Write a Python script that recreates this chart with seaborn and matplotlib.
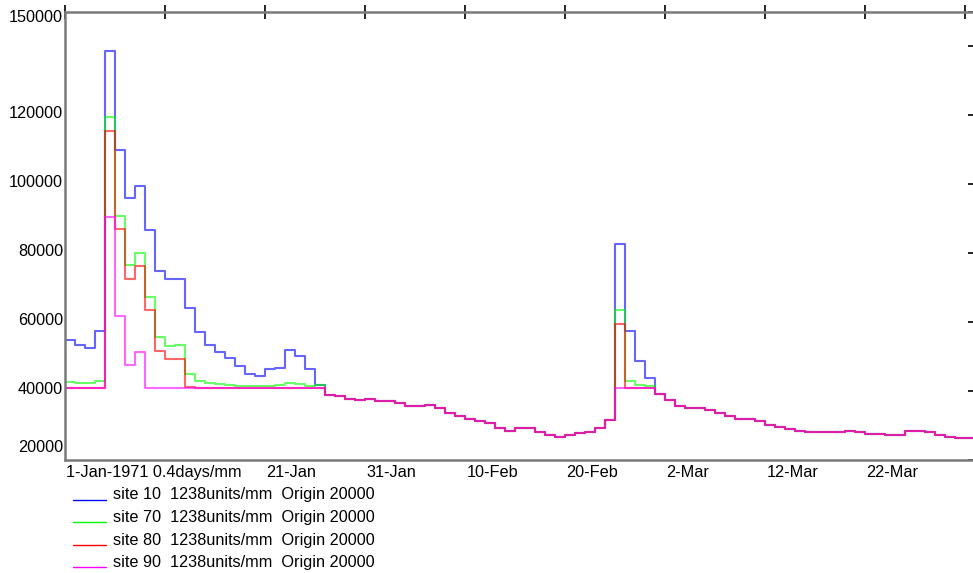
import numpy as np
import pandas as pd
import matplotlib
matplotlib.use("Agg")
import matplotlib.pyplot as plt
import matplotlib.transforms as mtransforms
from matplotlib.lines import Line2D
import seaborn as sns

# ---------------- data (daily values, day 0 = 1-Jan-1971) ----------------
days = list(range(91))

site10 = [54900, 53500, 52500, 57500, 138800, 110000, 95900, 99400, 86700, 74900,
          72400, 72600, 64200, 57200, 53400, 51200, 49600, 47300, 45000, 44300,
          46300, 46800, 51800, 50100, 46300, 41700, 39000, 38500, 37700, 37400,
          37700, 37200, 37200, 36500, 35700, 35700, 36000, 35000, 33600, 32700,
          31800, 31300, 30700, 29400, 28500, 29400, 29400, 28100, 27200, 26800,
          27200, 27700, 28000, 29300, 31500, 82800, 57400, 48800, 43800, 39200,
          37400, 35600, 35200, 35200, 34600, 33600, 32800, 31800, 31800, 31200,
          30300, 29700, 29000, 28500, 28200, 28200, 28200, 28200, 28500, 28100,
          27600, 27500, 27200, 27200, 28500, 28500, 28200, 27200, 26800, 26300,
          26300]

site70 = [42500, 42400, 42300, 43000, 119500, 90700, 76600, 80100, 67200, 55600,
          53000, 53300, 45000, 43000, 42400, 42100, 41900, 41600, 41400, 41400,
          41500, 41700, 42200, 42000, 41600, 41700, 39000, 38500, 37700, 37400,
          37700, 37200, 37200, 36500, 35700, 35700, 36000, 35000, 33600, 32700,
          31800, 31300, 30700, 29400, 28500, 29400, 29400, 28100, 27200, 26800,
          27200, 27700, 28000, 29300, 31500, 63500, 43000, 41900, 41500, 39200,
          37400, 35600, 35200, 35200, 34600, 33600, 32800, 31800, 31800, 31200,
          30300, 29700, 29000, 28500, 28200, 28200, 28200, 28200, 28500, 28100,
          27600, 27500, 27200, 27200, 28500, 28500, 28200, 27200, 26800, 26300,
          26300]

site80 = [40800, 40800, 40800, 40800, 115600, 86900, 72600, 76200, 63400, 51700,
          49200, 49400, 41200, 40800, 40800, 40800, 40800, 40800, 40800, 40800,
          40800, 40800, 40800, 40800, 40800, 40800, 39000, 38500, 37700, 37400,
          37700, 37200, 37200, 36500, 35700, 35700, 36000, 35000, 33600, 32700,
          31800, 31300, 30700, 29400, 28500, 29400, 29400, 28100, 27200, 26800,
          27200, 27700, 28000, 29300, 31500, 59500, 40800, 40800, 40800, 39200,
          37400, 35600, 35200, 35200, 34600, 33600, 32800, 31800, 31800, 31200,
          30300, 29700, 29000, 28500, 28200, 28200, 28200, 28200, 28500, 28100,
          27600, 27500, 27200, 27200, 28500, 28500, 28200, 27200, 26800, 26300,
          26300]

site90 = [40800, 40800, 40800, 40800, 90500, 61900, 47700, 51200, 40800, 40800,
          40800, 40800, 40800, 40800, 40800, 40800, 40800, 40800, 40800, 40800,
          40800, 40800, 40800, 40800, 40800, 40800, 39000, 38500, 37700, 37400,
          37700, 37200, 37200, 36500, 35700, 35700, 36000, 35000, 33600, 32700,
          31800, 31300, 30700, 29400, 28500, 29400, 29400, 28100, 27200, 26800,
          27200, 27700, 28000, 29300, 31500, 40800, 40800, 40800, 40800, 39200,
          37400, 35600, 35200, 35200, 34600, 33600, 32800, 31800, 31800, 31200,
          30300, 29700, 29000, 28500, 28200, 28200, 28200, 28200, 28500, 28100,
          27600, 27500, 27200, 27200, 28500, 28500, 28200, 27200, 26800, 26300,
          26300]

series_names = ["site 10", "site 70", "site 80", "site 90"]
series_colors = ["#0000ff", "#00ff00", "#ff0000", "#ff00ff"]
legend_labels = ["site 10  1238units/mm  Origin 20000",
                 "site 70  1238units/mm  Origin 20000",
                 "site 80  1238units/mm  Origin 20000",
                 "site 90  1238units/mm  Origin 20000"]

xtick_days = [0, 10, 20, 30, 40, 50, 60, 70, 80, 90]
xtick_labels = ["1-Jan-1971 0.4days/mm", "", "21-Jan", "31-Jan", "10-Feb",
                "20-Feb", "2-Mar", "12-Mar", "22-Mar", ""]
ytick_values = [20000, 40000, 60000, 80000, 100000, 120000, 140000, 150000]
ytick_labels = ["20000", "40000", "60000", "80000", "100000", "120000", "", "150000"]

# ---------------- styling ----------------
sns.set_theme(style="white")
plt.rcParams['font.family'] = ['Liberation Sans', 'DejaVu Sans']
FS = 11.7

W, H = 973, 573
fig = plt.figure(figsize=(W / 100, H / 100), dpi=100)
fig.patch.set_facecolor("white")
ax = fig.add_axes([65 / W, (H - 460) / H, (975 - 65) / W, (460 - 12) / H])
ax.set_facecolor("white")

frames = []
for name, vals in zip(series_names, [site10, site70, site80, site90]):
    d = days + [days[-1] + 1]          # close the last daily step
    v = list(vals) + [vals[-1]]
    frames.append(pd.DataFrame({"day": d, "value": v, "site": name}))
df = pd.concat(frames, ignore_index=True)

for name, color in zip(series_names, series_colors):
    sns.lineplot(data=df[df["site"] == name], x="day", y="value", color=color,
                 drawstyle="steps-post", linewidth=1.5, alpha=0.6, ax=ax,
                 legend=False, estimator=None, sort=False)

ax.set_xlim(0, 91)
ax.set_ylim(20000, 150000)
ax.set_xlabel("")
ax.set_ylabel("")

for side in ["left", "right", "top", "bottom"]:
    ax.spines[side].set_visible(True)
    ax.spines[side].set_color("#7a7a7a")
    ax.spines[side].set_linewidth(1.8)

ax.set_xticks(xtick_days)
ax.set_xticklabels(xtick_labels)
ax.set_yticks(ytick_values)
ax.set_yticklabels(ytick_labels)
ax.tick_params(axis="both", which="major", direction="inout", length=10, width=1.2,
               color="black", top=True, right=True, labelsize=FS, labelcolor="black")
ax.tick_params(axis="x", pad=-1.5)
ax.tick_params(axis="y", pad=-3.7)

for lab in ax.get_xticklabels():
    lab.set_ha("left")
    lab.set_transform(lab.get_transform() +
                      mtransforms.ScaledTranslation(1.5 / 100, 0, fig.dpi_scale_trans))

for val, lab in zip(ytick_values, ax.get_yticklabels()):
    lab.set_va("baseline")
    if val == 150000:
        dy = -10
    elif val == 20000:
        dy = 7.5
    else:
        dy = -3
    lab.set_transform(lab.get_transform() +
                      mtransforms.ScaledTranslation(0, dy / 100, fig.dpi_scale_trans))

# ---------------- legend (drawn below the axes) ----------------
legend_y = [499.5, 522, 544.5, 567]
for color, label, y in zip(series_colors, legend_labels, legend_y):
    fig.add_artist(Line2D([73 / W, 106 / W], [1 - y / H, 1 - y / H],
                          transform=fig.transFigure, color=color, linewidth=1.0))
    fig.text(113 / W, 1 - y / H, label, fontsize=FS, color="black",
             ha="left", va="baseline")

fig.savefig("out.png", dpi=100, facecolor="white")
